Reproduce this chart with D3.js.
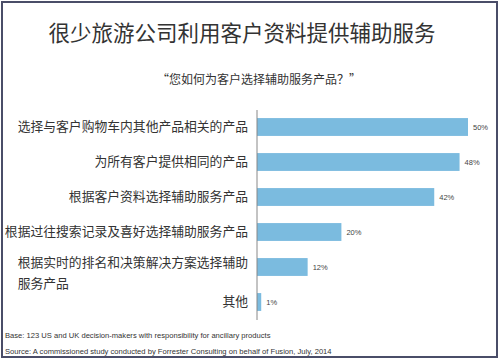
<!DOCTYPE html>
<html>
<head>
<meta charset="utf-8">
<script src="https://cdn.jsdelivr.net/npm/d3@7"></script>
<style>
  body { margin: 0; background: #fff; }
  svg { display: block; }
</style>
</head>
<body>
<script>
// 数据
const categories = [
  '选择与客户购物车内其他产品相关的产品',
  '为所有客户提供相同的产品',
  '根据客户资料选择辅助服务产品',
  '根据过往搜索记录及喜好选择辅助服务产品',
  '根据实时的排名和决策解决方案选择辅助服务产品',
  '其他'
];
const values = [50, 48, 42, 20, 12, 1];
// 换行的标签
const labelLines = [
  ['选择与客户购物车内其他产品相关的产品'],
  ['为所有客户提供相同的产品'],
  ['根据客户资料选择辅助服务产品'],
  ['根据过往搜索记录及喜好选择辅助服务产品'],
  ['根据实时的排名和决策解决方案选择辅助', '服务产品'],
  ['其他']
];
const title = '很少旅游公司利用客户资料提供辅助服务';
const subtitle = '“您如何为客户选择辅助服务产品？”';
const notes = [
  'Base: 123 US and UK decision-makers with responsibility for ancillary products',
  'Source: A commissioned study conducted by Forrester Consulting on behalf of Fusion, July, 2014'
];

const cjk = '"Noto Sans CJK SC", "Noto Sans", sans-serif';
const latin = '"Liberation Sans", Arial, sans-serif';

const svg = d3.select('body')
  .append('svg')
  .attr('width', 500)
  .attr('height', 361);

svg.append('rect')
  .attr('x', 0).attr('y', 0)
  .attr('width', 500).attr('height', 361)
  .attr('fill', '#fff');

// 边框
svg.append('rect')
  .attr('x', 2).attr('y', 2)
  .attr('width', 495).attr('height', 355)
  .attr('fill', 'none')
  .attr('stroke', '#4a4d68')
  .attr('stroke-width', 2);

svg.append('text')
  .attr('x', 242).attr('y', 33)
  .attr('dy', '0.35em')
  .attr('text-anchor', 'middle')
  .attr('font-family', cjk)
  .attr('font-size', 21.5)
  .attr('fill', '#333')
  .text(title);

svg.append('text')
  .attr('x', 259).attr('y', 80)
  .attr('dy', '0.35em')
  .attr('text-anchor', 'middle')
  .attr('font-family', cjk)
  .attr('font-size', 12)
  .attr('fill', '#333')
  .text(subtitle);

const x = d3.scaleLinear()
  .domain([0, 50])
  .range([257, 468]);

const y = d3.scaleBand()
  .domain(categories)
  .range([109.5, 319.5])
  .paddingInner(0.49)
  .paddingOuter(0.245);

svg.selectAll('rect.bar')
  .data(values)
  .join('rect')
  .attr('class', 'bar')
  .attr('x', x(0))
  .attr('y', (d, i) => y(categories[i]))
  .attr('width', d => x(d) - x(0))
  .attr('height', y.bandwidth())
  .attr('fill', '#7bbbdf');

// 轴线
svg.append('line')
  .attr('x1', x(0)).attr('x2', x(0))
  .attr('y1', 110).attr('y2', 320)
  .attr('stroke', '#888')
  .attr('stroke-width', 1);

svg.selectAll('text.val')
  .data(values)
  .join('text')
  .attr('class', 'val')
  .attr('x', d => x(d) + 5)
  .attr('y', (d, i) => y(categories[i]) + y.bandwidth() / 2)
  .attr('dy', '0.35em')
  .attr('font-family', latin)
  .attr('font-size', 7.5)
  .attr('fill', '#444')
  .text(d => d + '%');

// 类别标签（两行的标签第一行稍高于柱子中心）
const lineGap = 21;
labelLines.forEach((lines, i) => {
  const cy = y(categories[i]) + y.bandwidth() / 2;
  const top = lines.length > 1 ? cy - 4 : cy;
  const first = svg.append('text')
    .attr('x', 248)
    .attr('y', top)
    .attr('dy', '0.35em')
    .attr('text-anchor', 'end')
    .attr('font-family', cjk)
    .attr('font-size', 12.8)
    .attr('fill', '#333')
    .text(lines[0]);
  if (lines.length > 1) {
    const w = first.node().getComputedTextLength();
    lines.slice(1).forEach((l, j) => {
      svg.append('text')
        .attr('x', 248 - w)
        .attr('y', top + (j + 1) * lineGap)
        .attr('dy', '0.35em')
        .attr('font-family', cjk)
        .attr('font-size', 12.8)
        .attr('fill', '#333')
        .text(l);
    });
  }
});

svg.selectAll('text.note')
  .data(notes)
  .join('text')
  .attr('class', 'note')
  .attr('x', 5)
  .attr('y', (d, i) => 335 + i * 16)
  .attr('dy', '0.35em')
  .attr('font-family', latin)
  .attr('font-size', 7.6)
  .attr('fill', '#333')
  .text(d => d);
</script>
</body>
</html>
